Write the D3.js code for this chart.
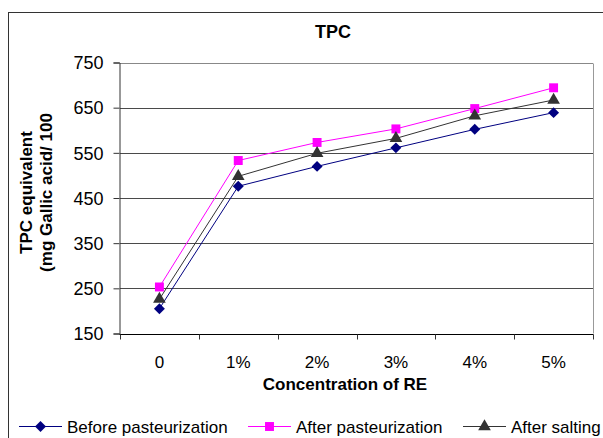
<!DOCTYPE html>
<html>
<head>
<meta charset="utf-8">
<script src="https://cdn.jsdelivr.net/npm/d3@7"></script>
<style>
  html, body { margin: 0; padding: 0; background: #fff; }
  svg { display: block; font-family: "Liberation Sans", Arial, sans-serif; }
</style>
</head>
<body>
<svg id="chart" width="603" height="438"></svg>
<script>
// Concentration levels of RE
const categories = ["0", "1%", "2%", "3%", "4%", "5%"];

// TPC values (mg gallic acid equivalent / 100)
const beforePasteurization = [205, 476, 520, 561, 602, 639];
const afterPasteurization  = [253, 533, 573, 603, 648, 694];
const afterSalting         = [226, 498, 549, 582, 632, 667];

const yTicks = [150, 250, 350, 450, 550, 650, 750];

const seriesNames = ["Before pasteurization", "After pasteurization", "After salting"];
const seriesValues = [beforePasteurization, afterPasteurization, afterSalting];
const seriesColors = ["#000080", "#ff00ff", "#333333"];

// Square rotated 45 degrees (equal width and height)
const wideDiamond = {
  draw(ctx, size) {
    const r = Math.sqrt(size / 2);
    ctx.moveTo(0, -r);
    ctx.lineTo(r, 0);
    ctx.lineTo(0, r);
    ctx.lineTo(-r, 0);
    ctx.closePath();
  }
};
const seriesSymbols = [wideDiamond, d3.symbolSquare, d3.symbolTriangle];
const symbolSizes = [60, 80, 70];

const svg = d3.select("#chart");

const plot = { left: 120, right: 593, top: 62.5, bottom: 333.5 };

// Outer chart frame (runs past the right and bottom edges)
svg.append("rect")
  .attr("x", 8.5).attr("y", 12.5)
  .attr("width", 640).attr("height", 480)
  .attr("fill", "#fff").attr("stroke", "#333").attr("stroke-width", 1);

const x = d3.scaleBand().domain(categories).range([plot.left, plot.right]).padding(0);
const y = d3.scaleLinear().domain([150, 750]).range([plot.bottom, plot.top]);

// Horizontal gridlines
svg.append("g")
  .selectAll("line")
  .data(yTicks.filter(t => t > 150))
  .join("line")
  .attr("x1", plot.left).attr("x2", plot.right)
  .attr("y1", d => Math.round(y(d)) + 0.5).attr("y2", d => Math.round(y(d)) + 0.5)
  .attr("stroke", d => d === 750 ? "#888" : "#4a4a4a")
  .attr("stroke-width", 1);

// Right border of plot area
svg.append("line")
  .attr("x1", plot.right + 0.5).attr("x2", plot.right + 0.5)
  .attr("y1", Math.round(y(750)) + 0.5).attr("y2", plot.bottom)
  .attr("stroke", "#999");

// Y axis
const yAxis = d3.axisLeft(y).tickValues(yTicks).tickSize(6).tickPadding(10).tickFormat(d3.format("d"));
const gy = svg.append("g")
  .attr("transform", `translate(${plot.left - 0.5},0)`)
  .call(yAxis);
gy.select(".domain").attr("stroke", "#333");
gy.selectAll(".tick line").attr("stroke", "#333");
gy.selectAll(".tick text")
  .attr("fill", "#000")
  .style("font-size", "18px")
  .attr("dy", "0.35em");

// X axis (ticks on band boundaries)
const gx = svg.append("g")
  .attr("transform", `translate(0,${Math.round(plot.bottom) + 0.5})`);
gx.append("line")
  .attr("x1", plot.left - 0.5).attr("x2", plot.right + 0.5)
  .attr("stroke", "#000");
const boundaries = categories.map(c => x(c)).concat([plot.right]);
gx.selectAll("line.tk")
  .data(boundaries)
  .join("line")
  .attr("class", "tk")
  .attr("x1", d => Math.round(d) + 0.5).attr("x2", d => Math.round(d) + 0.5)
  .attr("y1", 0).attr("y2", 5)
  .attr("stroke", "#333");
gx.selectAll("text")
  .data(categories)
  .join("text")
  .attr("x", d => x(d) + x.bandwidth() / 2)
  .attr("y", 33)
  .attr("text-anchor", "middle")
  .style("font-size", "17px")
  .text(d => d);

// Series lines and markers
const line = d3.line()
  .x((d, i) => x(categories[i]) + x.bandwidth() / 2)
  .y(d => y(d));

seriesValues.forEach((vals, s) => {
  const g = svg.append("g");
  g.append("path")
    .datum(vals)
    .attr("d", line)
    .attr("fill", "none")
    .attr("stroke", seriesColors[s])
    .attr("stroke-width", 1);
  g.selectAll("path.mk")
    .data(vals)
    .join("path")
    .attr("class", "mk")
    .attr("d", d3.symbol().type(seriesSymbols[s]).size(symbolSizes[s]))
    .attr("transform", (d, i) => `translate(${x(categories[i]) + x.bandwidth() / 2},${y(d)})`)
    .attr("fill", seriesColors[s]);
});

// Title
svg.append("text")
  .attr("x", 333).attr("y", 37.5)
  .attr("text-anchor", "middle")
  .style("font-size", "18px").style("font-weight", "bold")
  .text("TPC");

// Axis titles
svg.append("text")
  .attr("x", 345).attr("y", 390)
  .attr("text-anchor", "middle")
  .style("font-size", "17px").style("font-weight", "bold")
  .text("Concentration of RE");

svg.append("text")
  .attr("transform", "translate(32,192.5) rotate(-90)")
  .attr("text-anchor", "middle")
  .style("font-size", "17px").style("font-weight", "bold")
  .text("TPC equivalent");
svg.append("text")
  .attr("transform", "translate(52,192.5) rotate(-90)")
  .attr("text-anchor", "middle")
  .style("font-size", "17px").style("font-weight", "bold")
  .text("(mg Gallic acid/ 100");

// Legend
const legendX = [19, 248, 463];
const legendY = 426.5;
seriesNames.forEach((name, s) => {
  const g = svg.append("g").attr("transform", `translate(${legendX[s]},${legendY})`);
  g.append("line").attr("x1", 0).attr("x2", 43).attr("y1", 0).attr("y2", 0)
    .attr("stroke", seriesColors[s]).attr("stroke-width", 1);
  g.append("path")
    .attr("d", d3.symbol().type(seriesSymbols[s]).size(symbolSizes[s]))
    .attr("transform", "translate(21.5,0)")
    .attr("fill", seriesColors[s]);
  g.append("text")
    .attr("x", 48).attr("y", 6)
    .style("font-size", "17px")
    .text(name);
});
</script>
</body>
</html>
